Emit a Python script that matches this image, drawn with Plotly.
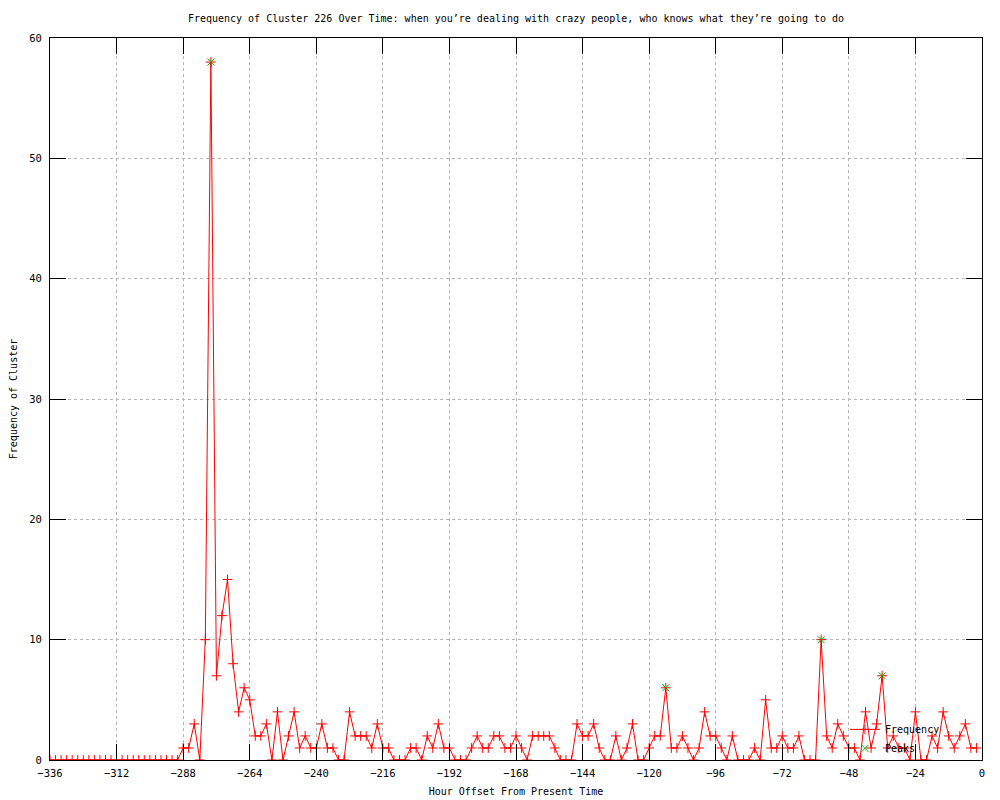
import plotly.graph_objects as go

# Hour offsets (every 2 hours from -336 to -2)
hours = list(range(-336, 0, 2))

# Frequency of cluster per time bucket
frequency = (
    [0] * 24 +                                   # -336 .. -290
    [1, 1, 3, 0, 10, 58, 7, 12, 15, 8,           # -288 .. -270
     4, 6, 5, 2, 2, 3, 0, 4, 0, 2,               # -268 .. -250
     4, 1, 2, 1, 1, 3, 1, 1, 0, 0,               # -248 .. -230
     4, 2, 2, 2, 1, 3, 1, 1, 0, 0,               # -228 .. -210
     0, 1, 1, 0, 2, 1, 3, 1, 1, 0,               # -208 .. -190
     0, 0, 1, 2, 1, 1, 2, 2, 1, 1,               # -188 .. -170
     2, 1, 0, 2, 2, 2, 2, 1, 0, 0,               # -168 .. -150
     0, 3, 2, 2, 3, 1, 0, 0, 2, 0,               # -148 .. -130
     1, 3, 0, 0, 1, 2, 2, 6, 1, 1,               # -128 .. -110
     2, 1, 0, 1, 4, 2, 2, 1, 0, 2,               # -108 .. -90
     0, 0, 0, 1, 0, 5, 1, 1, 2, 1,               # -88 .. -70
     1, 2, 0, 0, 0, 10, 2, 1, 3, 2,              # -68 .. -50
     1, 1, 0, 4, 1, 3, 7, 1, 2, 1,               # -48 .. -30
     1, 0, 4, 0, 0, 2, 1, 4, 2, 1,               # -28 .. -10
     2, 3, 1, 1]                                 # -8 .. -2
)

# Detected peaks
peak_hours = [-278, -114, -58, -36]
peak_values = [58, 6, 10, 7]

x_ticks = list(range(-336, 1, 24))
y_ticks = list(range(0, 61, 10))

FONT = "DejaVu Sans Mono"

fig = go.Figure()
fig.add_trace(go.Scatter(
    x=hours, y=frequency, name="Frequency",
    mode="lines+markers",
    line=dict(color="#ff0000", width=1),
    marker=dict(symbol="cross-thin", size=7, line=dict(color="#ff0000", width=1)),
))
fig.add_trace(go.Scatter(
    x=peak_hours, y=peak_values, name="Peaks",
    mode="markers",
    marker=dict(symbol="x-thin", size=7, line=dict(color="#00b000", width=1)),
))

axis_common = dict(
    showline=True, linecolor="black", linewidth=1, mirror="allticks",
    ticks="inside", ticklen=16, tickcolor="black", tickwidth=1,
    showgrid=True, gridcolor="#b4b4b4", griddash="dot", gridwidth=1,
    zeroline=False, tickfont=dict(family=FONT, size=10.5, color="black"),
    automargin=False,
)

fig.update_layout(
    width=992, height=792,
    margin=dict(l=42, r=18, t=30, b=40),
    paper_bgcolor="white", plot_bgcolor="white",
    font=dict(family=FONT, size=10, color="black"),
    title=dict(
        text="Frequency of Cluster 226 Over Time: when you’re dealing with crazy people, who knows what they’re going to do",
        x=0.5, xref="paper", y=1 - 10 / 792, yref="container", yanchor="middle", xanchor="center",
        font=dict(family=FONT, size=10, color="black"),
    ),
    xaxis=dict(
        range=[-336, 0], tickvals=x_ticks, ticklabelstandoff=3,
        title=dict(text="Hour Offset From Present Time", standoff=10,
                   font=dict(family=FONT, size=10)),
        **axis_common,
    ),
    yaxis=dict(
        range=[0, 60], tickvals=y_ticks, ticklabelstandoff=5,
        title=dict(text="Frequency of Cluster", standoff=9,
                   font=dict(family=FONT, size=10)),
        **axis_common,
    ),
    showlegend=True,
    legend=dict(
        x=0.853, y=-0.004, xanchor="left", yanchor="bottom",
        bgcolor="rgba(0,0,0,0)", borderwidth=0,
        font=dict(family=FONT, size=10, color="black"),
        tracegroupgap=0, itemwidth=30,
    ),
)

fig.write_html("out.html")
